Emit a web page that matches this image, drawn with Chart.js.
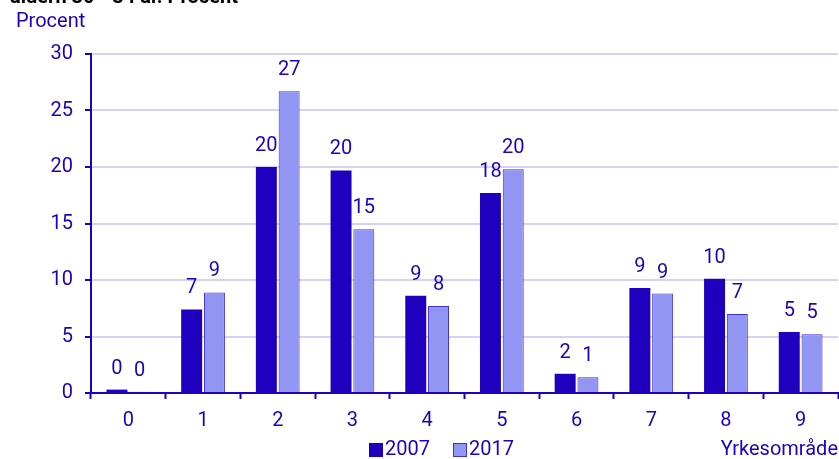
<!DOCTYPE html>
<html>
<head>
<meta charset="utf-8">
<script src="https://cdn.jsdelivr.net/npm/chart.js@4/dist/chart.umd.min.js"></script>
<style>
  html, body { margin: 0; padding: 0; background: #fff; overflow: hidden; }
  #wrap { position: relative; width: 839px; height: 459px; }
  #title { position: absolute; left: 10px; top: -16px; font: bold 20px Roboto, sans-serif; color: #000; white-space: nowrap; }
</style>
</head>
<body>
<div id="wrap">
  <div id="title">åldern 30 - 34 år. Procent</div>
  <canvas id="chart" width="839" height="459"></canvas>
</div>
<script>
const categories = ['0', '1', '2', '3', '4', '5', '6', '7', '8', '9'];
const values2007 = [0.3, 7.4, 20.0, 19.7, 8.6, 17.7, 1.7, 9.3, 10.1, 5.4];
const values2017 = [0.1, 8.9, 26.7, 14.5, 7.7, 19.8, 1.4, 8.8, 7.0, 5.2];
const seriesNames = ['2007', '2017'];
const yTicks = [0, 5, 10, 15, 20, 25, 30];

const dark = '#1e00be';
const light = '#9196f2';
const lightBorder = '#3f30d2';
const grid = '#d4d4f2';
const font = 'Roboto, sans-serif';

// value labels above bars + axis titles + legend
const decorations = {
  id: 'decorations',
  afterDatasetsDraw(chart) {
    const ctx = chart.ctx;
    ctx.save();
    ctx.fillStyle = dark;
    ctx.font = '20px ' + font;
    ctx.textAlign = 'center';
    ctx.textBaseline = 'alphabetic';
    chart.data.datasets.forEach((ds, i) => {
      chart.getDatasetMeta(i).data.forEach((bar, j) => {
        ctx.fillText(String(Math.round(ds.data[j])), bar.x, bar.y - 16);
      });
    });

    ctx.textBaseline = 'middle';
    ctx.textAlign = 'left';
    ctx.fillText('Procent', 16, 22);
    ctx.textAlign = 'right';
    ctx.fillText('Yrkesområde', 838, 450);

    // legend
    const colors = [[dark, dark], [light, lightBorder]];
    let x = 369;
    ctx.textAlign = 'left';
    seriesNames.forEach((name, i) => {
      ctx.fillStyle = colors[i][0];
      ctx.fillRect(x, 443, 14, 14);
      ctx.strokeStyle = colors[i][1];
      ctx.lineWidth = 1;
      ctx.strokeRect(x + 0.5, 443.5, 13, 13);
      ctx.fillStyle = dark;
      ctx.fillText(name, x + 16, 450);
      x += 84;
    });
    ctx.restore();
  }
};

new Chart(document.getElementById('chart'), {
  type: 'bar',
  data: {
    labels: categories,
    datasets: [
      {
        label: seriesNames[0],
        data: values2007,
        backgroundColor: dark,
        borderColor: dark,
        borderWidth: 0
      },
      {
        label: seriesNames[1],
        data: values2017,
        backgroundColor: light,
        borderColor: lightBorder,
        borderWidth: 1
      }
    ]
  },
  options: {
    responsive: false,
    animation: false,
    categoryPercentage: 0.61,
    barPercentage: 0.92,
    layout: { padding: { top: 54, right: 1, left: 0, bottom: 0 } },
    plugins: {
      legend: { display: false },
      tooltip: { enabled: false }
    },
    scales: {
      x: {
        grid: {
          offset: true,
          drawOnChartArea: false,
          drawTicks: true,
          tickLength: 6,
          tickColor: dark,
          tickWidth: 2
        },
        border: { color: dark, width: 2 },
        ticks: { color: dark, font: { family: font, size: 20 }, padding: 10 },
        afterFit(scale) { scale.height = 66; }
      },
      y: {
        min: 0,
        max: 30,
        afterBuildTicks(scale) { scale.ticks = yTicks.map(v => ({ value: v })); },
        grid: {
          color: grid,
          lineWidth: 2,
          drawTicks: true,
          tickLength: 6,
          tickColor: dark,
          tickWidth: 2
        },
        border: { color: dark, width: 2 },
        ticks: { color: dark, font: { family: font, size: 20 }, padding: 12 },
        afterFit(scale) { scale.width = 91; }
      }
    }
  },
  plugins: [decorations]
});
</script>
</body>
</html>
